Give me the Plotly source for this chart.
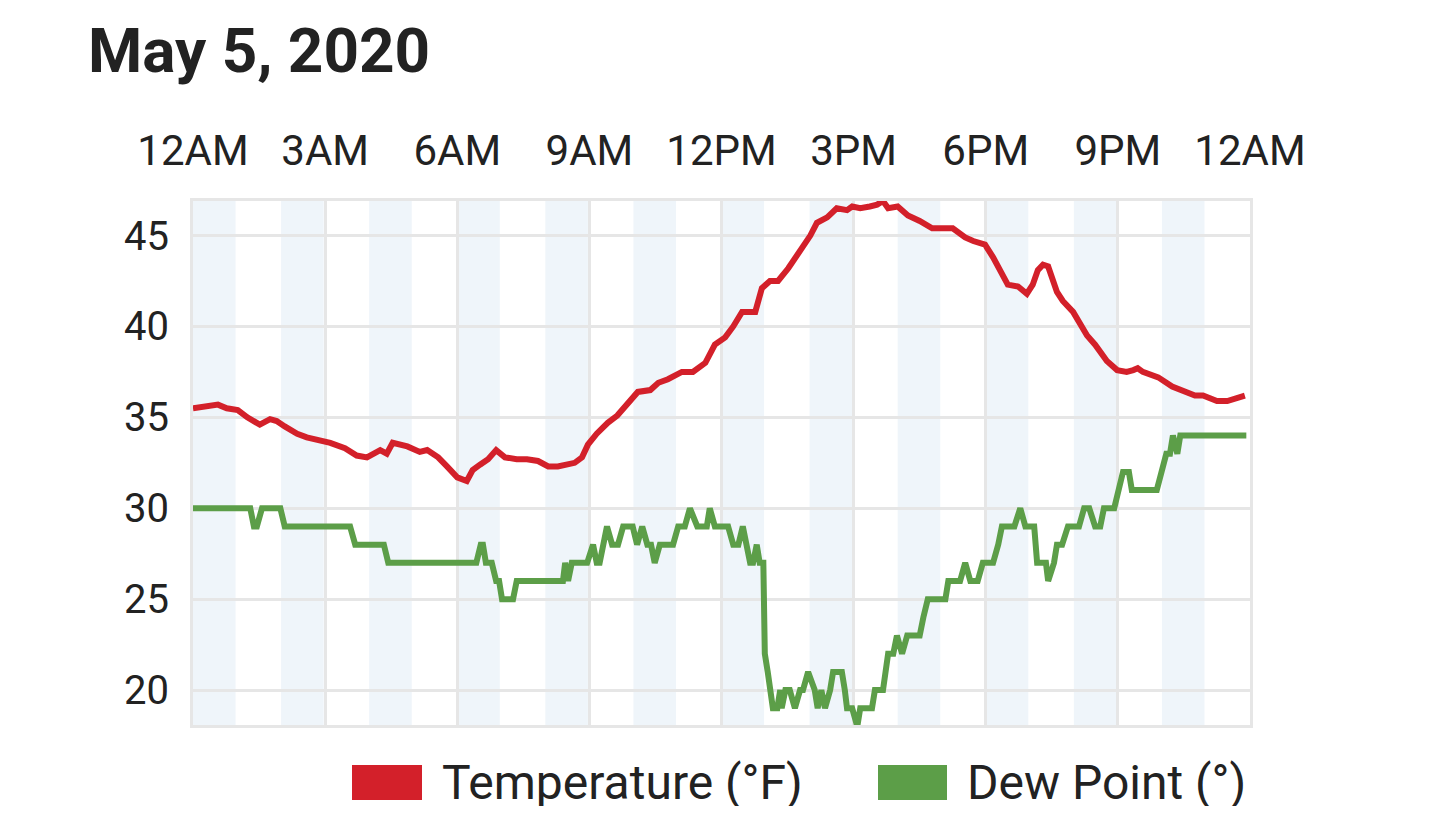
import plotly.graph_objects as go

# minutes after midnight
temp_min = [0, 19, 34, 46, 61, 74, 91, 105, 114, 125, 142, 155, 169, 187, 207, 223, 237, 255, 264, 272,
            292, 309, 319, 334, 346, 360, 373, 381, 391, 402, 413, 425, 441, 455, 470, 484, 497, 507, 520, 530,
            538, 550, 565, 578, 591, 606, 623, 634, 647, 666, 681, 698, 711, 725, 736, 748, 766, 775, 786, 797,
            811, 827, 841, 850, 864, 877, 891, 898, 909, 922, 932, 940, 947, 960, 974, 990, 1007, 1035, 1052, 1063,
            1079, 1090, 1102, 1110, 1124, 1136, 1144, 1151, 1158, 1165, 1177, 1185, 1199, 1208, 1218, 1229, 1245, 1259, 1272, 1281,
            1287, 1294, 1307, 1315, 1334, 1349, 1365, 1376, 1395, 1409, 1417, 1426, 1433]
temp_f = [35.5, 35.6, 35.7, 35.5, 35.4, 35.0, 34.6, 34.9, 34.8, 34.5, 34.1, 33.9, 33.8, 33.6, 33.3, 32.9, 32.8, 33.2, 33.0, 33.6,
          33.4, 33.1, 33.2, 32.8, 32.3, 31.7, 31.5, 32.1, 32.4, 32.7, 33.2, 32.8, 32.7, 32.7, 32.6, 32.3, 32.3, 32.4, 32.5, 32.8,
          33.5, 34.1, 34.7, 35.1, 35.7, 36.4, 36.5, 36.9, 37.1, 37.5, 37.5, 38.0, 39.0, 39.4, 40.0, 40.8, 40.8, 42.1, 42.5, 42.5,
          43.2, 44.1, 45.0, 45.7, 46.0, 46.5, 46.4, 46.6, 46.5, 46.6, 46.7, 46.9, 46.5, 46.6, 46.1, 45.8, 45.4, 45.4, 44.9, 44.7,
          44.5, 43.8, 42.9, 42.3, 42.2, 41.8, 42.3, 43.1, 43.4, 43.3, 41.9, 41.4, 40.8, 40.2, 39.5, 39.0, 38.1, 37.6, 37.5, 37.6,
          37.7, 37.5, 37.3, 37.2, 36.7, 36.5, 36.2, 36.2, 35.9, 35.9, 36.0, 36.1, 36.2]

dew_min = [0, 78, 83, 87, 94, 119, 125, 214, 221, 260, 266, 386, 392, 395, 399, 407, 413, 417, 421, 436,
           441, 504, 507, 511, 516, 537, 545, 550, 554, 564, 571, 579, 586, 599, 605, 612, 619, 624, 629, 636,
           654, 661, 670, 677, 687, 700, 704, 711, 729, 736, 743, 749, 759, 763, 768, 772, 777, 779, 783, 790,
           796, 800, 802, 807, 813, 820, 827, 831, 838, 847, 851, 856, 861, 868, 872, 884, 888, 891, 898, 905,
           909, 925, 929, 940, 947, 954, 959, 966, 973, 990, 995, 1001, 1025, 1029, 1045, 1052, 1059, 1069, 1076, 1090,
           1097, 1102, 1119, 1127, 1134, 1146, 1150, 1162, 1165, 1173, 1177, 1184, 1192, 1207, 1214, 1221, 1229, 1236, 1241, 1255,
           1267, 1275, 1279, 1313, 1326, 1331, 1335, 1341, 1345, 1435]
dew_f = [30, 30, 29, 29, 30, 30, 29, 29, 28, 28, 27, 27, 28, 28, 27, 27, 26, 26, 25, 25,
         26, 26, 27, 26, 27, 27, 28, 27, 27, 29, 28, 28, 29, 29, 28, 29, 28, 28, 27, 28,
         28, 29, 29, 30, 29, 29, 30, 29, 29, 28, 28, 29, 27, 27, 28, 27, 27, 22, 21, 19,
         19, 20, 19, 20, 20, 19, 20, 20, 21, 20, 19, 20, 19, 20, 21, 21, 20, 19, 19, 18,
         19, 19, 20, 20, 22, 22, 23, 22, 23, 23, 24, 25, 25, 26, 26, 27, 26, 26, 27, 27,
         28, 29, 29, 30, 29, 29, 27, 27, 26, 27, 28, 28, 29, 29, 30, 30, 29, 29, 30, 30,
         32, 32, 31, 31, 33, 33, 34, 33, 34, 34]

tick_min = [0, 180, 360, 540, 720, 900, 1080, 1260, 1440]
tick_labels = ['12AM', '3AM', '6AM', '9AM', '12PM', '3PM', '6PM', '9PM', '12AM']
shaded_hours = [0, 2, 4, 6, 8, 10, 12, 14, 16, 18, 20, 22]

RED = '#d3202a'
GREEN = '#5c9e48'
GRID = '#e6e6e6'
TEXT = '#222222'

# the page body adds an 8px margin, so the figure is a bit smaller than the window
W, H, OFF = 1418, 798, 8
# plot area in window pixels
L, R, T, B = 193, 1250, 201, 725


def px_x(px):
    return (px - L) / (R - L)


def px_y(py):
    return (B - py) / (B - T)


fig = go.Figure()
fig.add_trace(go.Scatter(x=temp_min, y=temp_f, mode='lines', name='Temperature (°F)',
                         line=dict(color=RED, width=6), showlegend=False))
fig.add_trace(go.Scatter(x=dew_min, y=dew_f, mode='lines', name='Dew Point (°)',
                         line=dict(color=GREEN, width=6), showlegend=False))

# light blue band on every other hour
for h in shaded_hours:
    fig.add_shape(type='rect', xref='x', yref='paper', x0=h * 60, x1=h * 60 + 58, y0=0, y1=1,
                  fillcolor='#eff5fa', line_width=0, layer='below')

# legend swatches + labels
for (sx0, sx1, tx, color, label) in [(352, 422, 440, RED, 'Temperature (°F)'),
                                     (878, 947, 965, GREEN, 'Dew Point (°)')]:
    fig.add_shape(type='rect', xref='paper', yref='paper', x0=px_x(sx0), x1=px_x(sx1),
                  y0=px_y(800), y1=px_y(765), fillcolor=color, line_width=0)
    fig.add_annotation(xref='paper', yref='paper', x=px_x(tx), y=px_y(782), text=label,
                       showarrow=False, xanchor='left', yanchor='middle',
                       font=dict(family='Roboto', size=48, color=TEXT))

fig.add_annotation(xref='paper', yref='paper', x=px_x(86), y=px_y(50), text='<b>May 5, 2020</b>',
                   showarrow=False, xanchor='left', yanchor='middle',
                   font=dict(family='Roboto', size=62, color=TEXT))

fig.update_layout(
    width=W, height=H,
    margin=dict(l=L - OFF, r=W - (R - OFF), t=T - OFF, b=H - (B - OFF)),
    plot_bgcolor='white', paper_bgcolor='white',
    font=dict(family='Roboto', color=TEXT),
    showlegend=False,
)
fig.update_xaxes(side='top', range=[0, 1440], tickvals=tick_min, ticktext=tick_labels,
                 tickfont=dict(size=42, color=TEXT), ticklabelstandoff=16,
                 showgrid=True, gridcolor=GRID, gridwidth=3,
                 showline=True, linecolor=GRID, linewidth=3, mirror=True, zeroline=False)
fig.update_yaxes(range=[18.08, 46.9], tickvals=[20, 25, 30, 35, 40, 45],
                 tickfont=dict(size=40, color=TEXT), ticklabelstandoff=13,
                 showgrid=True, gridcolor=GRID, gridwidth=3,
                 showline=True, linecolor=GRID, linewidth=3, mirror=True, zeroline=False)

fig.write_html('out.html')
